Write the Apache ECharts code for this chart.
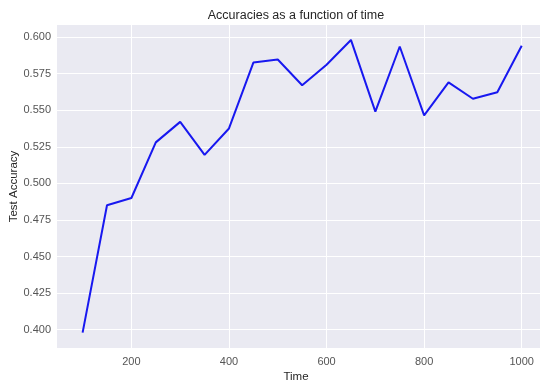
<!DOCTYPE html>
<html>
<head>
<meta charset="utf-8">
<script src="https://cdn.jsdelivr.net/npm/echarts@6/dist/echarts.min.js"></script>
<style>html,body{margin:0;padding:0;background:#fff}#c{width:540px;height:385px}</style>
</head>
<body>
<div id="c"></div>
<script>
const times = [100,150,200,250,300,350,400,450,500,550,600,650,700,750,800,850,900,950,1000];
const accuracies = [0.398,0.485,0.490,0.528,0.542,0.5195,0.5375,0.5825,0.5846,0.567,0.581,0.598,0.549,0.5935,0.5465,0.569,0.5578,0.5623,0.594];
const xTicks = [200,400,600,800,1000];
const yTicks = [0.400,0.425,0.450,0.475,0.500,0.525,0.550,0.575,0.600];

const chart = echarts.init(document.getElementById('c'), null, {renderer:'canvas'});
const font = 'Liberation Sans, Arial, sans-serif';
chart.setOption({
  animation: false,
  backgroundColor: '#ffffff',
  title: [{
    text: 'Accuracies as a function of time',
    left: 291, top: 4, textAlign: 'center',
    textStyle: {fontFamily: font, fontSize: 12.5, fontWeight: 'normal', color: '#262626'}
  }, {
    text: 'Time',
    left: 291, top: 366, textAlign: 'center',
    textStyle: {fontFamily: font, fontSize: 11.5, fontWeight: 'normal', color: '#262626'}
  }],
  grid: {left: 57, right: 0, top: 25, bottom: 37, show: true, backgroundColor: '#eaeaf2', borderWidth: 0,
         containLabel: false, outerBoundsMode: 'none'},
  xAxis: {
    type: 'value', min: 47.5, max: 1037.5,
    axisLine: {show: false},
    axisTick: {show: false, customValues: xTicks},
    axisLabel: {customValues: xTicks, fontFamily: font, fontSize: 11, color: '#555', margin: 8,
                formatter: v => String(v)},
    splitLine: {show: true, lineStyle: {color: '#ffffff', width: 1}}
  },
  yAxis: {
    type: 'value', min: 0.3875, max: 0.6082,
    name: 'Test Accuracy', nameLocation: 'middle', nameGap: 37, nameRotate: 90, nameMoveOverlap: false,
    nameTextStyle: {fontFamily: font, fontSize: 11.5, color: '#262626'},
    axisLine: {show: false},
    axisTick: {show: false, customValues: yTicks},
    axisLabel: {customValues: yTicks, fontFamily: font, fontSize: 11, color: '#555', margin: 6,
                formatter: v => v.toFixed(3)},
    splitLine: {show: true, lineStyle: {color: '#ffffff', width: 1}}
  },
  series: [{
    type: 'line',
    data: times.map((t,i) => [t, accuracies[i]]),
    symbol: 'none',
    lineStyle: {color: '#1818f0', width: 2},
    clip: false
  }]
});
</script>
</body>
</html>
